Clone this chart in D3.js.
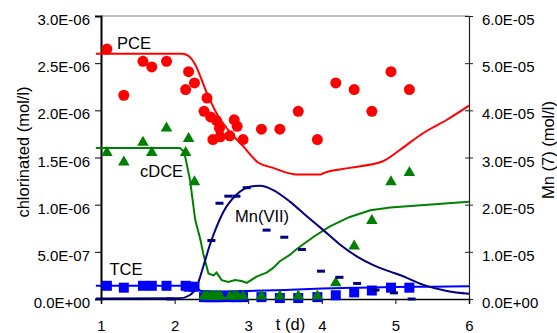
<!DOCTYPE html>
<html>
<head>
<meta charset="utf-8">
<script src="https://cdn.jsdelivr.net/npm/d3@7"></script>
<style>
  body { margin: 0; background: #fff; }
  svg { display: block; font-family: "Liberation Sans", Arial, sans-serif; }
</style>
</head>
<body>
<div id="chart"></div>
<script>
// sampling times (d) shared by PCE, cDCE and TCE measurements
var sampleDays = [1.08, 1.31, 1.57, 1.69, 1.89, 2.15, 2.19, 2.27, 2.40, 2.44, 2.49, 2.52, 2.57, 2.61,
  2.62, 2.75, 2.81, 2.85, 2.93, 3.18, 3.43, 3.68, 3.94, 4.19, 4.44, 4.68, 4.94, 5.19];
var pceObs = [2.65e-6, 2.16e-6, 2.52e-6, 2.46e-6, 2.52e-6, 2.22e-6, 2.41e-6, 2.29e-6, 1.99e-6, 2.13e-6,
  1.93e-6, 1.69e-6, 1.89e-6, 1.81e-6, 1.72e-6, 1.73e-6, 1.90e-6, 1.83e-6, 1.69e-6, 1.80e-6, 1.80e-6,
  1.99e-6, 1.69e-6, 2.29e-6, 2.22e-6, 1.99e-6, 2.41e-6, 2.22e-6];
var cdceObs = [1.55e-6, 1.45e-6, 1.66e-6, 1.55e-6, 1.81e-6, 1.55e-6, 1.70e-6, 1.24e-6, 0.03e-6, 0.03e-6,
  0.03e-6, 0.03e-6, 0.03e-6, 0.03e-6, 0.03e-6, 0.03e-6, 0.03e-6, 0.03e-6, 0.03e-6, 0.03e-6, 0.03e-6,
  0.03e-6, 0.03e-6, 0.17e-6, 0.56e-6, 0.83e-6, 1.24e-6, 1.34e-6];
var tceObs = [0.14e-6, 0.12e-6, 0.14e-6, 0.14e-6, 0.14e-6, 0.14e-6, 0.13e-6, 0.13e-6, 0.02e-6, 0.02e-6,
  0.02e-6, 0.02e-6, 0.02e-6, 0.02e-6, 0.02e-6, 0.02e-6, 0.02e-6, 0.02e-6, 0.02e-6, 0.02e-6, 0.01e-6,
  0.01e-6, 0.02e-6, 0.04e-6, 0.07e-6, 0.09e-6, 0.12e-6, 0.12e-6];

// Mn(VII) measurements (right axis)
var mnDays = [1.94, 2.50, 2.61, 2.73, 2.84, 2.98, 3.25, 3.49, 3.73, 3.99, 4.24, 4.48, 4.73, 4.98, 5.22];
var mnObs = [0, 1.24e-5, 2.03e-5, 2.18e-5, 2.18e-5, 2.36e-5, 1.46e-5, 1.31e-5, 1.05e-5, 0.59e-5,
  0.46e-5, 0.33e-5, 0.19e-5, 0.13e-5, 0];

// model curves
var pceFitDays = [0.93, 2.11, 2.20, 2.27, 2.44, 2.57, 2.73, 2.93, 3.13, 3.34, 3.66, 3.98, 4.04, 4.38,
  4.83, 5.06, 5.38, 5.70, 6.0];
var pceFit = [2.60e-6, 2.60e-6, 2.57e-6, 2.50e-6, 2.18e-6, 1.97e-6, 1.79e-6, 1.62e-6, 1.45e-6, 1.39e-6,
  1.32e-6, 1.32e-6, 1.34e-6, 1.39e-6, 1.46e-6, 1.58e-6, 1.76e-6, 1.90e-6, 2.05e-6];
var cdceFitDays = [0.93, 2.07, 2.13, 2.21, 2.28, 2.35, 2.39, 2.46, 2.53, 2.57, 2.64, 2.73, 2.82, 2.91,
  2.98, 3.12, 3.25, 3.34, 3.43, 3.57, 3.66, 3.89, 4.11, 4.38, 4.66, 4.93, 6.0];
var cdceFit = [1.60e-6, 1.60e-6, 1.56e-6, 1.26e-6, 0.84e-6, 0.63e-6, 0.48e-6, 0.27e-6, 0.25e-6, 0.28e-6,
  0.20e-6, 0.18e-6, 0.20e-6, 0.19e-6, 0.17e-6, 0.24e-6, 0.28e-6, 0.33e-6, 0.40e-6, 0.47e-6, 0.53e-6,
  0.66e-6, 0.77e-6, 0.87e-6, 0.94e-6, 0.97e-6, 1.03e-6];
var tceFitDays = [0.93, 2.25, 2.30, 2.36, 2.6, 3.0, 3.5, 4.0, 4.5, 5.0, 5.5, 6.0];
var tceFit = [0.14e-6, 0.14e-6, 0.12e-6, 0.085e-6, 0.08e-6, 0.085e-6, 0.095e-6, 0.11e-6, 0.12e-6,
  0.127e-6, 0.13e-6, 0.134e-6];
var mnFitDays = [0.93, 2.07, 2.21, 2.30, 2.39, 2.48, 2.57, 2.66, 2.84, 3.02, 3.16, 3.34, 3.57, 3.80,
  4.02, 4.25, 4.48, 4.70, 4.93, 5.06, 5.38, 5.70, 6.0];
var mnFit = [0.01e-5, 0.015e-5, 0.085e-5, 0.26e-5, 0.69e-5, 1.15e-5, 1.53e-5, 1.84e-5, 2.21e-5, 2.38e-5,
  2.40e-5, 2.31e-5, 2.06e-5, 1.75e-5, 1.46e-5, 1.15e-5, 0.90e-5, 0.72e-5, 0.58e-5, 0.51e-5, 0.30e-5,
  0.17e-5, 0.11e-5];

var xTicks = [1, 2, 3, 4, 5, 6];
var leftTicks = [0, 5e-7, 1e-6, 1.5e-6, 2e-6, 2.5e-6, 3e-6];
var rightTicks = [0, 1e-5, 2e-5, 3e-5, 4e-5, 5e-5, 6e-5];

var width = 557, height = 333;
var plot = {left: 101, right: 469, top: 16, bottom: 299};

var svg = d3.select("#chart").append("svg")
  .attr("width", width)
  .attr("height", height);

var x = d3.scaleLinear().domain([1, 6]).range([plot.left, plot.right]);
var yL = d3.scaleLinear().domain([0, 3e-6]).range([plot.bottom, plot.top]);
var yR = d3.scaleLinear().domain([0, 6e-5]).range([plot.bottom, plot.top]);

function sci(d) {
  var parts = d.toExponential(1).split("e");
  var e = +parts[1];
  return parts[0] + "E" + (e < 0 ? "-" : "+") + String(Math.abs(e)).padStart(2, "0");
}

// top border
svg.append("line")
  .attr("x1", plot.left).attr("x2", plot.right)
  .attr("y1", plot.top).attr("y2", plot.top)
  .attr("stroke", "#808080").attr("stroke-width", 1);

// axes
var gL = svg.append("g")
  .attr("transform", "translate(" + plot.left + ",0)")
  .call(d3.axisLeft(yL).tickValues(leftTicks).tickSize(6).tickPadding(5).tickFormat(sci));
gL.select(".domain").attr("stroke", "#000").attr("stroke-width", 2);

var gR = svg.append("g")
  .attr("transform", "translate(" + plot.right + ",0)")
  .call(d3.axisRight(yR).tickValues(rightTicks).tickSize(4).tickPadding(9).tickFormat(sci));
gR.select(".domain").attr("stroke", "#222").attr("stroke-width", 1.2);
gR.selectAll(".tick line").attr("x1", -4).attr("x2", 4).attr("stroke", "#222");

var gB = svg.append("g")
  .attr("transform", "translate(0," + plot.bottom + ")")
  .call(d3.axisBottom(x).tickValues(xTicks).tickSize(5).tickPadding(17).tickFormat(d3.format("d")));
gB.select(".domain").attr("stroke", "#000").attr("stroke-width", 1.5);

svg.selectAll(".tick text")
  .attr("font-size", 15)
  .attr("font-family", "Liberation Sans, Arial, sans-serif")
  .attr("fill", "#000");
gL.selectAll(".tick text").attr("dy", "0.57em");
gR.selectAll(".tick text").attr("dy", "0.57em");
gB.selectAll(".tick text").attr("dy", "0.66em");

// axis titles
svg.append("text")
  .attr("transform", "translate(29,152) rotate(-90)")
  .attr("text-anchor", "middle")
  .attr("font-size", 16.5)
  .text("chlorinated (mol/l)");

svg.append("text")
  .attr("transform", "translate(554,150) rotate(-90)")
  .attr("text-anchor", "middle")
  .attr("font-size", 16.5)
  .text("Mn (7) (mol/l)");

svg.append("text")
  .attr("x", 290.5).attr("y", 330)
  .attr("text-anchor", "middle")
  .attr("font-size", 16.5)
  .text("t (d)");

// model lines
var lineL = d3.line().x(function(d) { return x(d[0]); }).y(function(d) { return yL(d[1]); });
var lineR = d3.line().x(function(d) { return x(d[0]); }).y(function(d) { return yR(d[1]); });

svg.append("path")
  .datum(d3.zip(pceFitDays, pceFit))
  .attr("fill", "none").attr("stroke", "#ff0000").attr("stroke-width", 2)
  .attr("d", lineL.curve(d3.curveMonotoneX));

svg.append("path")
  .datum(d3.zip(cdceFitDays, cdceFit))
  .attr("fill", "none").attr("stroke", "#008000").attr("stroke-width", 2)
  .attr("d", lineL.curve(d3.curveLinear));

svg.append("path")
  .datum(d3.zip(tceFitDays, tceFit))
  .attr("fill", "none").attr("stroke", "#0000ff").attr("stroke-width", 2)
  .attr("d", lineL.curve(d3.curveMonotoneX));

svg.append("path")
  .datum(d3.zip(mnFitDays, mnFit))
  .attr("fill", "none").attr("stroke", "#000080").attr("stroke-width", 2)
  .attr("d", lineR.curve(d3.curveMonotoneX));

// measured data
svg.append("g").selectAll("rect")
  .data(d3.zip(sampleDays, tceObs))
  .enter().append("rect")
  .attr("x", function(d) { return x(d[0]) - 5; })
  .attr("y", function(d) { return yL(d[1]) - 5; })
  .attr("width", 10).attr("height", 10)
  .attr("fill", "#0000ff");

svg.append("g").selectAll("path")
  .data(d3.zip(sampleDays, cdceObs))
  .enter().append("path")
  .attr("transform", function(d) { return "translate(" + x(d[0]) + "," + yL(d[1]) + ")"; })
  .attr("d", d3.symbol(d3.symbolTriangle, 58))
  .attr("fill", "#008000");

svg.append("g").selectAll("circle")
  .data(d3.zip(sampleDays, pceObs))
  .enter().append("circle")
  .attr("cx", function(d) { return x(d[0]); })
  .attr("cy", function(d) { return yL(d[1]); })
  .attr("r", 5.5)
  .attr("fill", "#ff0000");

svg.append("g").selectAll("rect")
  .data(d3.zip(mnDays, mnObs))
  .enter().append("rect")
  .attr("x", function(d) { return x(d[0]) - 4; })
  .attr("y", function(d) { return yR(d[1]) - 1.5; })
  .attr("width", 8).attr("height", 3)
  .attr("fill", "#000080");

// series labels
var labels = [
  {text: "PCE", x: 117, y: 48.5},
  {text: "cDCE", x: 140, y: 177},
  {text: "Mn(VII)", x: 235, y: 221.5},
  {text: "TCE", x: 109.5, y: 275}
];
svg.append("g").selectAll("text")
  .data(labels)
  .enter().append("text")
  .attr("x", function(d) { return d.x; })
  .attr("y", function(d) { return d.y; })
  .attr("font-size", 16.5)
  .text(function(d) { return d.text; });
</script>
</body>
</html>
